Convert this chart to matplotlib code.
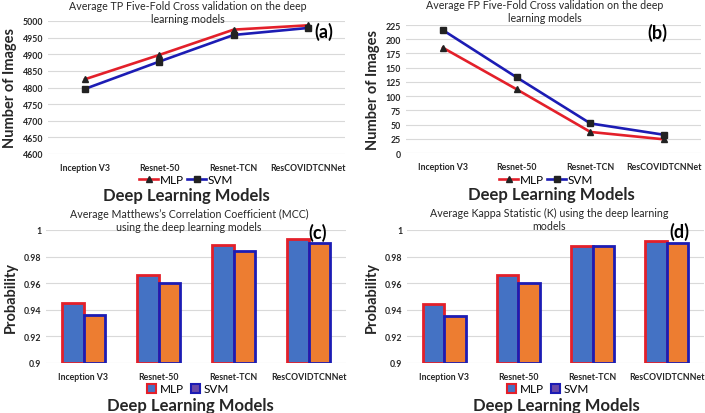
import numpy as np
import matplotlib.pyplot as plt
from matplotlib.lines import Line2D
from matplotlib.patches import Patch

models = ['Inception V3', 'Resnet-50', 'Resnet-TCN', 'ResCOVIDTCNNet']

tp_mlp = [4825, 4898, 4974, 4987]
tp_svm = [4796, 4878, 4958, 4979]

fp_mlp = [185, 112, 37, 24]
fp_svm = [216, 133, 52, 32]

mcc_mlp = [0.945, 0.966, 0.989, 0.993]
mcc_svm = [0.936, 0.960, 0.984, 0.990]

kappa_mlp = [0.944, 0.966, 0.988, 0.992]
kappa_svm = [0.935, 0.960, 0.988, 0.990]

RED = '#e3202a'
BLUE = '#1c1cb4'
BAR_BLUE = '#4472c4'
BAR_ORANGE = '#ed7d31'
GRID = '#d9d9d9'
TEXT = '#262626'

plt.rcParams['font.family'] = ['Lato', 'DejaVu Sans']

W, H = 705, 414
fig = plt.figure(figsize=(W / 100, H / 100), dpi=100)


def px_axes(x0, x1, ytop, ybot):
    # pixel box -> figure fraction
    return fig.add_axes([x0 / W, 1 - ybot / H, (x1 - x0) / W, (ybot - ytop) / H])


def ftext(x, y, s, **kw):
    # text placed by pixel position from top-left
    return fig.text(x / W, 1 - y / H, s, ha='center', va='center', **kw)


def style(ax, title, title_xy, ylabel, xlabel_xy, tag, tag_xy):
    for s in ax.spines.values():
        s.set_visible(False)
    ax.tick_params(length=0, labelsize=6.3, colors=TEXT)
    ax.tick_params(axis='x', pad=6.5)
    for lbl in ax.get_yticklabels() + ax.get_xticklabels():
        lbl.set_fontweight('bold')
    ax.grid(axis='y', color=GRID, lw=0.8)
    ax.set_axisbelow(True)
    ftext(*title_xy, title, fontsize=7.7, color=TEXT, linespacing=1.3)
    ax.set_ylabel(ylabel, fontsize=10.5, fontweight='bold', color=TEXT, labelpad=4)
    ftext(*xlabel_xy, 'Deep Learning Models', fontsize=12, fontweight='bold',
          color=TEXT)
    ftext(*tag_xy, tag, fontsize=13, fontweight='bold', color='black')


def line_panel(box, mlp, svm, ylim, yticks, title, title_xy, xlabel_xy,
               legend_xy, tag, tag_xy):
    ax = px_axes(*box)
    x = np.arange(len(models))
    ax.plot(x, mlp, color=RED, lw=1.9, marker='^', ms=5, mfc='#222222',
            mec='#222222', zorder=3)
    ax.plot(x, svm, color=BLUE, lw=1.9, marker='s', ms=4.5, mfc='#222222',
            mec='#222222', zorder=3)
    ax.set_xlim(-0.5, len(models) - 0.5)
    ax.set_ylim(*ylim)
    ax.set_yticks(yticks)
    ax.set_xticks(x)
    ax.set_xticklabels(models)
    style(ax, title, title_xy, 'Number of Images', xlabel_xy, tag, tag_xy)
    handles = [Line2D([], [], color=RED, lw=1.9, marker='^', ms=5,
                      mfc='#222222', mec='#222222'),
               Line2D([], [], color=BLUE, lw=1.9, marker='s', ms=4.5,
                      mfc='#222222', mec='#222222')]
    ax.legend(handles, ['MLP', 'SVM'], loc='center',
              bbox_to_anchor=(legend_xy[0] / W, 1 - legend_xy[1] / H),
              bbox_transform=fig.transFigure, ncol=2, frameon=False,
              fontsize=8.5, handlelength=1.6, handletextpad=0.1,
              columnspacing=0.3, borderpad=0)
    return ax


def bar_panel(box, mlp, svm, title, title_xy, xlabel_xy, legend_xy, tag, tag_xy):
    ax = px_axes(*box)
    x = np.arange(len(models))
    w = 0.29
    ax.bar(x - w / 2, np.array(mlp) - 0.9, w, bottom=0.9, color=BAR_BLUE,
           edgecolor=RED, lw=2)
    ax.bar(x + w / 2, np.array(svm) - 0.9, w, bottom=0.9, color=BAR_ORANGE,
           edgecolor=BLUE, lw=2)
    ax.set_xlim(-0.5, len(models) - 0.5)
    ax.set_ylim(0.9, 1.0)
    ax.set_yticks([0.9, 0.92, 0.94, 0.96, 0.98, 1.0])
    ax.set_yticklabels(['0.9', '0.92', '0.94', '0.96', '0.98', '1'])
    ax.set_xticks(x)
    ax.set_xticklabels(models)
    style(ax, title, title_xy, 'Probability', xlabel_xy, tag, tag_xy)
    handles = [Patch(facecolor=BAR_BLUE, edgecolor=RED, lw=1.5),
               Patch(facecolor='#6a4aa8', edgecolor=BLUE, lw=1.5)]
    ax.legend(handles, ['MLP', 'SVM'], loc='center',
              bbox_to_anchor=(legend_xy[0] / W, 1 - legend_xy[1] / H),
              bbox_transform=fig.transFigure, ncol=2, frameon=False,
              fontsize=8.5, handlelength=0.8, handleheight=0.8,
              handletextpad=0.3, columnspacing=0.6, borderpad=0)
    return ax


line_panel((48, 345, 22, 155), tp_mlp, tp_svm, (4600, 5000),
           range(4600, 5001, 50),
           'Average TP Five-Fold Cross validation on the deep\nlearning models',
           (188, 13), (186, 196), (186, 181), '(a)', (324, 32))
line_panel((406, 701, 26, 154), fp_mlp, fp_svm, (0, 225),
           range(0, 226, 25),
           'Average FP Five-Fold Cross validation on the deep\nlearning models',
           (545, 12), (551, 195), (546, 181), '(b)', (657, 33))
bar_panel((46, 346, 231, 364), mcc_mlp, mcc_svm,
          "Average Matthews\u2019s Correlation Coefficient (MCC)\nusing the deep learning models",
          (189, 221), (190, 406), (188, 390), '(c)', (318, 233))
bar_panel((407, 704, 231, 364), kappa_mlp, kappa_svm,
          'Average Kappa Statistic (K) using the deep learning\nmodels',
          (549, 220), (556, 406), (548, 390), '(d)', (679, 232))

fig.savefig('out.png', dpi=100, facecolor='white')
